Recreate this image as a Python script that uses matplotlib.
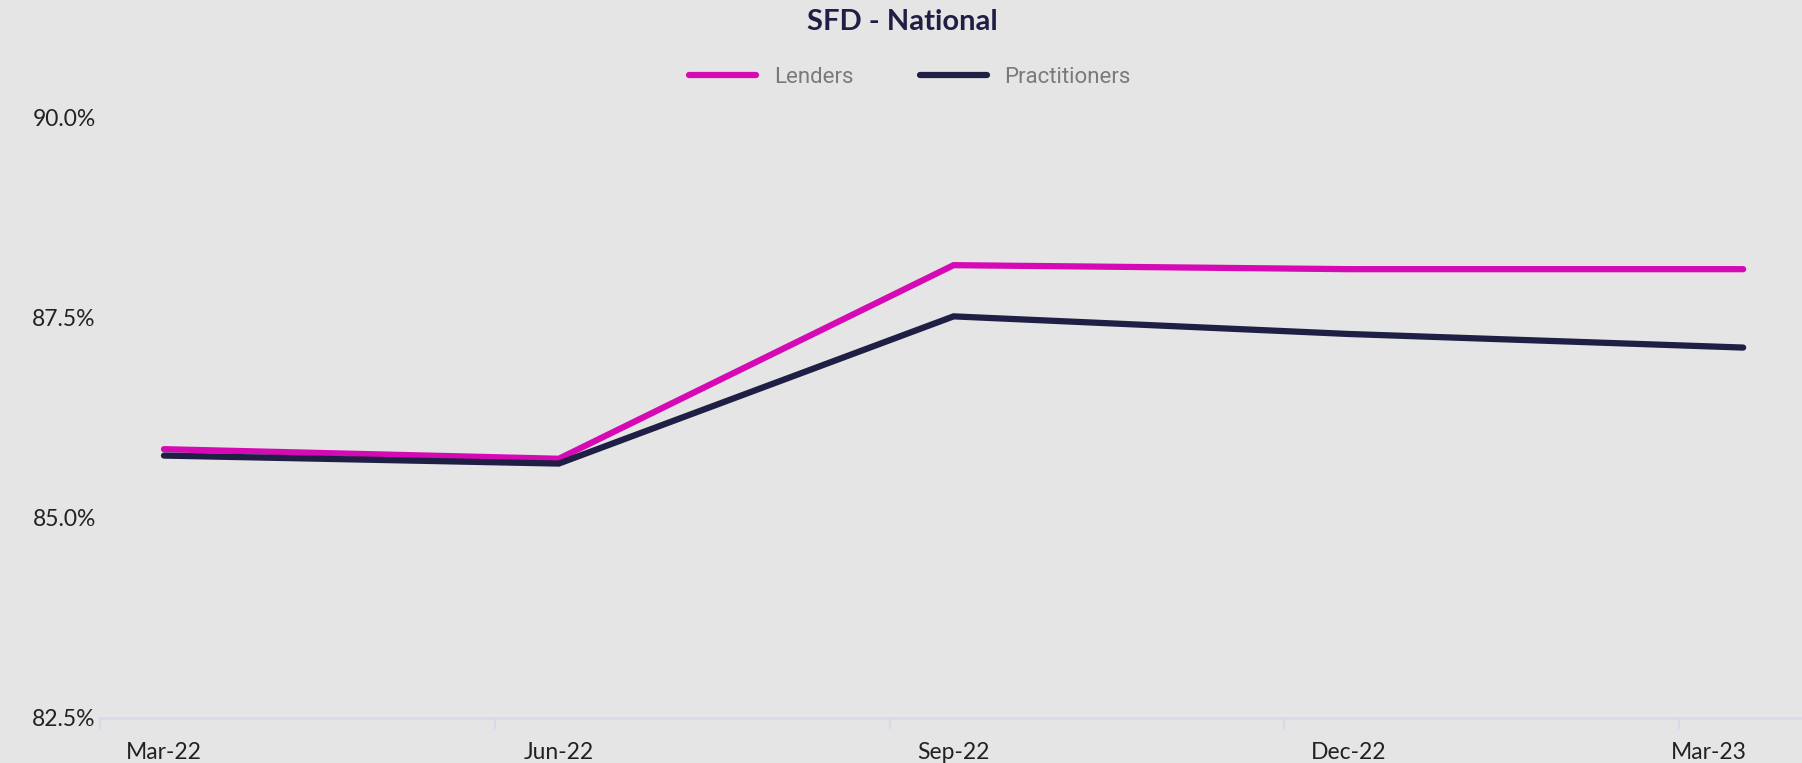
import numpy as np
import matplotlib.pyplot as plt
from matplotlib.ticker import FuncFormatter
from matplotlib.transforms import ScaledTranslation

quarters = ["Mar-22", "Jun-22", "Sep-22", "Dec-22", "Mar-23"]
lenders = [85.86, 85.74, 88.16, 88.11, 88.11]
practitioners = [85.78, 85.68, 87.52, 87.30, 87.13]
y_ticks = [82.5, 85.0, 87.5, 90.0]

bg = "#e5e5e5"
pink = "#d60ab4"
navy = "#1f1f45"
axis_col = "#d9d9ee"

fig = plt.figure(figsize=(18.02, 7.63), dpi=100, facecolor=bg)
ax = fig.add_axes([0.0555, 0.059, 0.9445, 0.7864], facecolor=bg)

x = np.arange(len(quarters))
ax.plot(x, lenders, color=pink, lw=4.5, solid_capstyle="round",
        solid_joinstyle="miter", label="Lenders")
ax.plot(x, practitioners, color=navy, lw=4.5, solid_capstyle="round",
        solid_joinstyle="miter", label="Practitioners")

ax.set_xlim(-0.162, 4.149)
ax.set_ylim(82.5, 90.0)

for s in ["top", "right", "left"]:
    ax.spines[s].set_visible(False)
ax.spines["bottom"].set_color(axis_col)
ax.spines["bottom"].set_linewidth(2)

ax.set_xticks(x)
ax.set_xticklabels(quarters, fontsize=16.5, color="#222222", family="Lato")
ax.set_xticks(x - 0.162, minor=True)
ax.tick_params(axis="x", which="major", length=0, pad=17)
ax.tick_params(axis="x", which="minor", length=8, width=1.5, color=axis_col)
# last label pulled left to stay inside the figure
last = ax.get_xticklabels()[-1]
last.set_transform(last.get_transform() + ScaledTranslation(-0.34, 0, fig.dpi_scale_trans))

ax.set_yticks(y_ticks)
ax.yaxis.set_major_formatter(FuncFormatter(lambda v, p: f"{v:.1f}%"))
ax.tick_params(axis="y", length=0, pad=3, labelsize=16.5, labelcolor="#222222")
for lab in ax.get_yticklabels():
    lab.set_family("Lato")

fig.text(0.501, 0.971, "SFD - National", ha="center", va="center",
         fontsize=21, fontweight="bold", color=navy, family="Lato")

fig.legend(loc="center", bbox_to_anchor=(0.505, 0.899), ncol=2, frameon=False,
           prop={"family": "Roboto", "size": 16}, labelcolor="#7a7a7a",
           handlelength=3.0, columnspacing=3.0, handletextpad=0.8)

fig.savefig("out.png", dpi=100, facecolor=bg)
